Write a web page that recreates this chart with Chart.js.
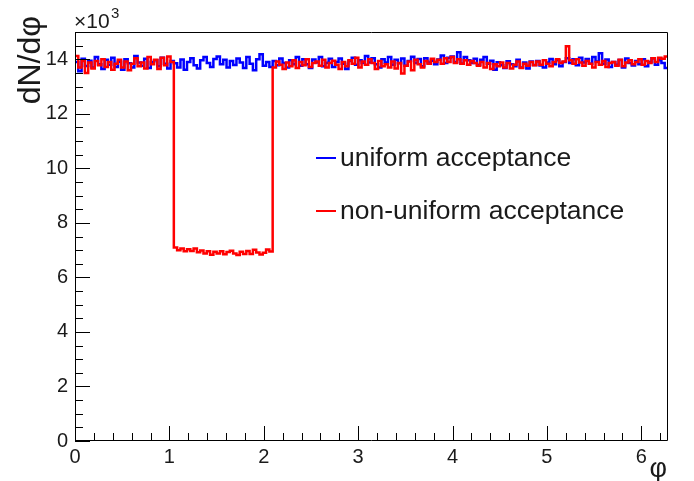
<!DOCTYPE html>
<html>
<head>
<meta charset="utf-8">
<script src="https://cdn.jsdelivr.net/npm/chart.js@4.4.0/dist/chart.umd.min.js"></script>
<style>
  html, body { margin: 0; padding: 0; background: #fff; }
  canvas { display: block; }
</style>
</head>
<body>
<canvas id="chart" width="694" height="481"></canvas>
<script>
// 180 bins over 0..2pi, values are dN/dphi (counts)
const nBins = 180;
const phiMax = 2 * Math.PI;

const uniform = [
  13900, 13560, 14020, 13750, 13950, 13700, 14080, 13820, 13640, 13980,
  13800, 14060, 13720, 13910, 13620, 14000, 13850, 13700, 14120, 13880,
  13760, 14020, 13680, 13900, 13960, 13740, 14060, 13840, 13660, 13940,
  13850, 13700, 13990, 13620, 13900, 14040, 13780, 13660, 13960, 14080,
  13860, 13720, 14010, 14100, 13820, 13980, 13700, 13940, 13790, 14030,
  13880, 13680, 14080, 13840, 13600, 14000, 14180, 13760, 13900, 13720,
  13940, 13780, 14030, 13860, 13700, 13960, 13820, 14080, 13760, 14000,
  13820, 13680, 13990, 13880, 14080, 13740, 13870, 14020, 13720, 13900,
  14030, 13840, 13640, 13940, 14060, 13800, 13960, 13860, 14120, 13880,
  14040, 13820, 13700, 14000, 13880, 14080, 13800, 13980, 13850, 14030,
  13760, 13940, 14090, 13860, 14010, 13740, 14040, 13880, 13950, 13820,
  13990, 14140, 13860, 14060, 14100, 13900, 14260, 13840, 14080, 13960,
  13860, 14020, 13800, 13980, 14080, 13840, 13950, 13620, 13890, 13780,
  13680, 13930, 13820, 13740, 13980, 13700, 13880, 13660, 13920, 13790,
  13940, 13770, 13700, 13880, 14010, 13820, 13960, 13740, 13900, 14040,
  13860, 14000, 13780, 14060, 13880, 14010, 13840, 14080, 13920, 14220,
  13840, 13990, 13720, 13900, 13800, 13970, 13700, 14030, 13860, 13770,
  13940, 13820, 14000, 13740, 13900, 14040, 13800, 13960, 13860, 13680
];

const nonUniform = [
  14120, 13700, 13940, 13500, 13880, 13660, 13940, 13780, 14000, 13720,
  13900, 13620, 13840, 13980, 13700, 13920, 13600, 13840, 14040, 13740,
  13880, 13660, 14080, 13820, 13980, 13640, 14060, 13780, 14100, 13900,
  7100, 7000, 7060, 6960, 7030, 6970, 7060, 6920, 6990, 6880,
  6960, 6830, 6940, 6880, 6960, 6850, 6930, 6980, 6880, 6820,
  6940, 6860, 6970, 6860, 7010, 6910, 6840, 6900, 7020, 6950,
  13700, 13920, 13800, 13640, 13880, 13740, 13960, 13680, 13900, 13780,
  14000, 13720, 13860, 13920, 13760, 13980, 13700, 13860, 13950, 13800,
  13640, 13900, 13740, 13960, 13840, 14060, 13700, 13920, 13800, 14000,
  13860, 13640, 13940, 13740, 13820, 13700, 13920, 13660, 13860, 13480,
  13760, 13920, 13600, 13980, 13820, 13700, 13940, 13840, 14020, 13900,
  13980, 13840, 14040, 13900, 14080, 13860, 14000, 13840, 13960, 13800,
  13940, 13860, 13760, 13900, 13700, 13860, 13640, 13820, 13740, 13880,
  13700, 13860, 13660, 13800, 13920, 13680, 13840, 13760, 13900, 13780,
  13920, 13800, 13960, 13840, 13740, 13900, 14000, 13860, 13920, 14480,
  13960, 13840, 14000, 13880, 13760, 13940, 13840, 13700, 13900, 13800,
  13940, 13720, 13860, 13900, 13760, 13980, 13740, 13880, 13960, 13820,
  13900, 14000, 13800, 13940, 13860, 14040, 13900, 14060, 14020, 14100
];

const xTicks = [0, 1, 2, 3, 4, 5, 6];
const yTicks = [0, 2000, 4000, 6000, 8000, 10000, 12000, 14000];
const legendLabels = ['uniform acceptance', 'non-uniform acceptance'];

// histogram -> step points at left bin edges, plus closing point at 2pi
function toSteps(vals) {
  const w = phiMax / nBins;
  let pts = vals.map((v, i) => ({ x: i * w, y: v }));
  pts.push({ x: phiMax, y: vals[vals.length - 1] });
  return pts;
}

const FONT = '"Liberation Sans", Arial, sans-serif';
const INK = '#1a1a1a';

const rootFrame = {
  id: 'rootFrame',
  afterDraw(chart) {
    const ctx = chart.ctx;
    const a = chart.chartArea;
    const xs = chart.scales.x, ys = chart.scales.y;
    ctx.save();
    ctx.strokeStyle = '#000';
    ctx.lineWidth = 1;
    ctx.beginPath();
    ctx.rect(a.left + 0.5, a.top + 0.5, a.right - a.left - 1, a.bottom - a.top - 1);
    ctx.stroke();

    // x ticks, pointing inward
    ctx.beginPath();
    for (let v = 0; v <= phiMax + 1e-9; v += 0.2) {
      const px = Math.round(xs.getPixelForValue(v)) + 0.5;
      const major = Math.abs(v - Math.round(v)) < 1e-6;
      ctx.moveTo(px, a.bottom);
      ctx.lineTo(px, a.bottom - (major ? 15 : 8));
    }
    // y ticks
    for (let v = 0; v <= 15000; v += 500) {
      const py = Math.round(ys.getPixelForValue(v)) + 0.5;
      const major = v % 2000 === 0;
      ctx.moveTo(a.left, py);
      ctx.lineTo(a.left + (major ? 15 : 8), py);
    }
    ctx.stroke();

    ctx.fillStyle = INK;
    // x10^3
    ctx.font = '21px ' + FONT;
    ctx.textAlign = 'left';
    ctx.textBaseline = 'alphabetic';
    ctx.fillText('\u00d710', 74, 28);
    ctx.font = '15px ' + FONT;
    ctx.fillText('3', 111, 18);

    // axis titles
    ctx.font = '27px ' + FONT;
    ctx.textAlign = 'right';
    ctx.fillText('\u03c6', 667, 477);
    ctx.save();
    ctx.font = '32px ' + FONT;
    ctx.translate(40, 16);
    ctx.rotate(-Math.PI / 2);
    ctx.textAlign = 'right';
    ctx.fillText('dN/d\u03c6', 0, 0);
    ctx.restore();

    // legend
    const rows = [
      { label: legendLabels[0], color: 'rgb(0,0,255)', y: 158 },
      { label: legendLabels[1], color: 'rgb(255,0,0)', y: 211 }
    ];
    ctx.font = '26.5px ' + FONT;
    ctx.textAlign = 'left';
    ctx.textBaseline = 'middle';
    rows.forEach(r => {
      ctx.strokeStyle = r.color;
      ctx.lineWidth = 2;
      ctx.beginPath();
      ctx.moveTo(316, r.y);
      ctx.lineTo(336, r.y);
      ctx.stroke();
      ctx.fillStyle = INK;
      ctx.fillText(r.label, 340, r.y + 1);
    });
    ctx.restore();
  }
};

new Chart(document.getElementById('chart'), {
  type: 'line',
  data: {
    datasets: [
      {
        label: legendLabels[1],
        data: toSteps(nonUniform),
        borderColor: 'rgb(255,0,0)',
        borderWidth: 2.5,
        stepped: 'before',
        pointRadius: 0,
        fill: false
      },
      {
        label: legendLabels[0],
        data: toSteps(uniform),
        borderColor: 'rgb(0,0,255)',
        borderWidth: 2.5,
        stepped: 'before',
        pointRadius: 0,
        fill: false
      }
    ]
  },
  options: {
    responsive: false,
    devicePixelRatio: 1,
    animation: false,
    layout: { padding: { top: 32, right: 26, left: 0, bottom: 0 } },
    plugins: { legend: { display: false }, tooltip: { enabled: false } },
    scales: {
      x: {
        type: 'linear',
        min: 0,
        max: phiMax,
        grid: { display: false, drawTicks: false },
        border: { display: false },
        afterFit: s => { s.height = 40; },
        afterBuildTicks: s => { s.ticks = xTicks.map(v => ({ value: v })); },
        ticks: { color: INK, font: { family: FONT, size: 20 }, padding: 4, maxRotation: 0 }
      },
      y: {
        type: 'linear',
        min: 0,
        max: 15000,
        grid: { display: false, drawTicks: false },
        border: { display: false },
        afterFit: s => { s.width = 75; },
        afterBuildTicks: s => { s.ticks = yTicks.map(v => ({ value: v })); },
        ticks: { color: INK, font: { family: FONT, size: 20 }, padding: 7, callback: v => String(v / 1000) }
      }
    }
  },
  plugins: [rootFrame]
});
</script>
</body>
</html>
